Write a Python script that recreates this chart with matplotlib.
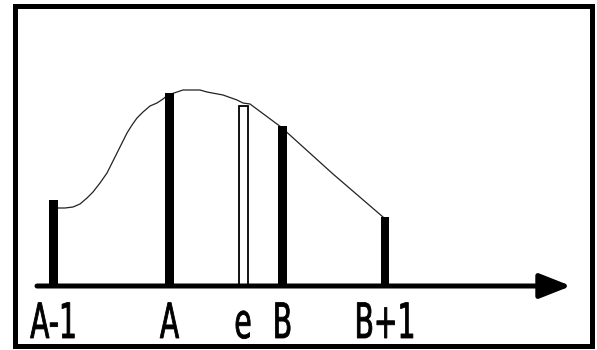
import matplotlib
matplotlib.use('Agg')
import matplotlib.pyplot as plt
from matplotlib.patches import Rectangle
from matplotlib.patheffects import AbstractPathEffect
from matplotlib.transforms import Affine2D

# bar labels, x positions and heights above the axis line
labels = ['A-1', 'A', 'e', 'B', 'B+1']
pos = [53.5, 169.5, 243, 282.5, 385]
heights = [86, 193, 180, 160, 69]
hollow = [False, False, True, False, False]

# smooth curve through the bar tops
curve_x = [57, 65, 73, 80, 87, 93, 100, 107, 112, 117, 122, 127, 132, 137,
           143, 150, 157, 163, 168, 177, 183, 190, 200, 207, 223, 237, 243,
           250, 281, 333, 383]
curve_y = [78, 78, 79, 82, 88, 94, 103, 113, 123, 133, 143, 153, 161, 168,
           174, 180, 183, 187, 191, 194, 196, 196, 196, 194, 191, 186, 183,
           182, 159, 112, 69]


class SqueezeX(AbstractPathEffect):
    # draws the glyphs narrower around a given x (display pixels), slightly heavier
    def __init__(self, cx, sx):
        super().__init__()
        self.cx = cx
        self.sx = sx

    def draw_path(self, renderer, gc, tpath, affine, rgbFace=None):
        squeeze = Affine2D().translate(-self.cx, 0).scale(self.sx, 1).translate(self.cx, 0)
        gc0 = renderer.new_gc()
        gc0.copy_properties(gc)
        gc0.set_linewidth(0.6)
        gc0.set_foreground('black')
        renderer.draw_path(gc0, tpath, affine + squeeze, rgbFace)
        gc0.restore()


fig = plt.figure(figsize=(5.97, 3.5), dpi=100)
ax = fig.add_axes([0, 0, 1, 1])
ax.set_xlim(0, 597)
ax.set_ylim(-64, 286)
ax.axis('off')

for x, h, e in zip(pos, heights, hollow):
    if e:
        ax.bar(x, h, width=9, bottom=0, facecolor='white', edgecolor='black', linewidth=1.3, zorder=3)
    else:
        ax.bar(x, h, width=8.5, bottom=0, color='black', zorder=3)

ax.plot(curve_x, curve_y, color='#222222', lw=0.9, zorder=2)

# x axis with arrow
ax.annotate('', xy=(571, 0), xytext=(37, 0),
            arrowprops=dict(arrowstyle='-|>,head_length=19,head_width=7.5',
                            mutation_scale=1, lw=3.6, color='black',
                            shrinkA=0, shrinkB=0), zorder=4)

for x, lab in zip(pos, labels):
    cx = ax.transData.transform((x, 0))[0]
    ax.text(x, -52, lab, ha='center', va='baseline', fontsize=35,
            family='DejaVu Sans', path_effects=[SqueezeX(cx, 0.58)])

ax.add_patch(Rectangle((14.5, -59.5), 577.5, 339.5, fill=False,
                       edgecolor='black', lw=3.6, clip_on=False))

fig.savefig('out.png', dpi=100)
